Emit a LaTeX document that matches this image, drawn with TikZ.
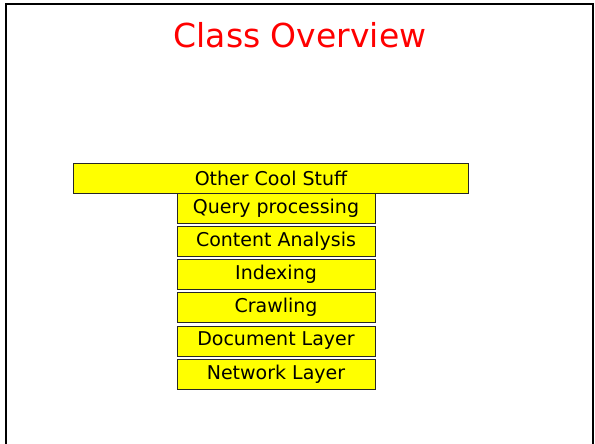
\documentclass[tikz,border=0pt]{standalone}
\usepackage{fontspec}
\setmainfont{DejaVu Sans}
\definecolor{layeryellow}{RGB}{255,255,0}
\tikzset{
    layer/.style={draw=black!85, fill=layeryellow, line width=0.8pt, inner sep=0pt,
        minimum height=30pt, minimum width=198pt, font=\fontsize{19}{22}\selectfont},
}
\begin{document}
\begin{tikzpicture}[x=1pt, y=-1pt]
        \useasboundingbox (0, 0) rectangle (595, 444);

        % Slide frame, open at the bottom
        \draw[line width=2.2pt] (6, 450) -- (6, 4) -- (593, 4) -- (593, 450);

        % Title
        \node[text=red, font=\fontsize{33}{40}\selectfont] (title) at (300, 35) {Class Overview};

        % Top layer
        \node[layer, minimum width=395pt] (other) at (271, 178) {Other Cool Stuff};

        % The stack of layers
        \node[layer] (query) at (276, 208) {Query processing};
        \node[layer] (content) at (276, 241) {Content Analysis};
        \node[layer] (index) at (276, 274) {Indexing};
        \node[layer] (crawl) at (276, 307.5) {Crawling};
        \node[layer] (doc) at (276, 341) {Document Layer};
        \node[layer] (net) at (276, 374) {Network Layer};

\end{tikzpicture}
\end{document}
